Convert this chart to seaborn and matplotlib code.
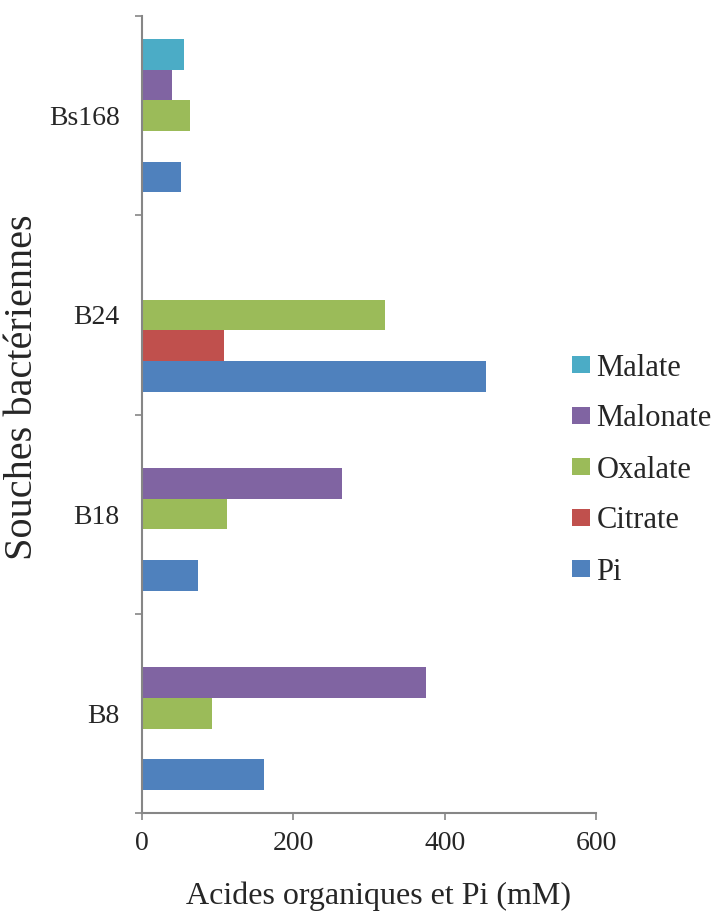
import numpy as np
import pandas as pd
import matplotlib
matplotlib.use("Agg")
import matplotlib.pyplot as plt
import seaborn as sns

# strains, top to bottom as drawn
strains = ["Bs168", "B24", "B18", "B8"]
acids = ["Malate", "Malonate", "Oxalate", "Citrate", "Pi"]

malate = [55, 0, 0, 0]
malonate = [39, 0, 264, 375]
oxalate = [63, 321, 112, 93]
citrate = [0, 109, 0, 0]
pi = [52, 454, 74, 161]

colors = ["#4BACC6", "#8064A2", "#9BBB59", "#C0504D", "#4F81BD"]
xticks = [0, 200, 400, 600]

sns.set_theme(style="white")
plt.rcParams["font.family"] = ["Liberation Serif", "DejaVu Serif"]


def main():
    wide = pd.DataFrame({"strain": strains, "Malate": malate, "Malonate": malonate,
                         "Oxalate": oxalate, "Citrate": citrate, "Pi": pi})
    df = wide.melt(id_vars="strain", var_name="acid", value_name="mM")

    fig = plt.figure(figsize=(7.2, 9.15), dpi=100)
    ax = fig.add_axes([142 / 720, 1 - 813 / 915, 454 / 720, 797 / 915])

    sns.barplot(data=df, y="strain", x="mM", hue="acid", order=strains, hue_order=acids,
                palette=colors, orient="h", width=0.77, linewidth=0, saturation=1,
                errorbar=None, ax=ax, legend=True)

    ax.set_xlim(0, 600)
    ax.set_ylim(3.5, -0.5)
    ax.set_xticks(xticks)
    ax.set_xticklabels([str(t) for t in xticks], fontsize=20)
    ax.set_yticks(range(len(strains)))
    ax.set_yticklabels(strains, fontsize=20)
    ax.set_yticks(np.arange(-0.5, len(strains)), minor=True)
    ax.tick_params(axis="y", which="major", length=0, pad=16)
    ax.tick_params(axis="y", which="minor", length=5, width=1.2, color="#868686", left=True)
    ax.tick_params(axis="x", which="major", length=5, width=1.2, color="#868686",
                   bottom=True, pad=8)

    for side in ["top", "right"]:
        ax.spines[side].set_visible(False)
    for side in ["left", "bottom"]:
        ax.spines[side].set_color("#868686")
        ax.spines[side].set_linewidth(1.5)

    ax.set_xlabel("Acides organiques et Pi (mM)", fontsize=23)
    ax.set_ylabel("Souches bactériennes", fontsize=29)
    ax.xaxis.set_label_coords(0.52, -0.086)
    ax.yaxis.set_label_coords(-0.222, 0.534)

    handles, labels = ax.get_legend_handles_labels()
    ax.get_legend().remove()
    fig.legend(handles, labels, loc="center left", bbox_to_anchor=(572 / 720, 1 - 470 / 915),
               frameon=False, fontsize=22, handlelength=0.58, handleheight=0.5,
               handletextpad=0.22, labelspacing=0.72, borderpad=0, borderaxespad=0)

    fig.savefig("out.png", dpi=100, facecolor="white")


if __name__ == "__main__":
    main()
